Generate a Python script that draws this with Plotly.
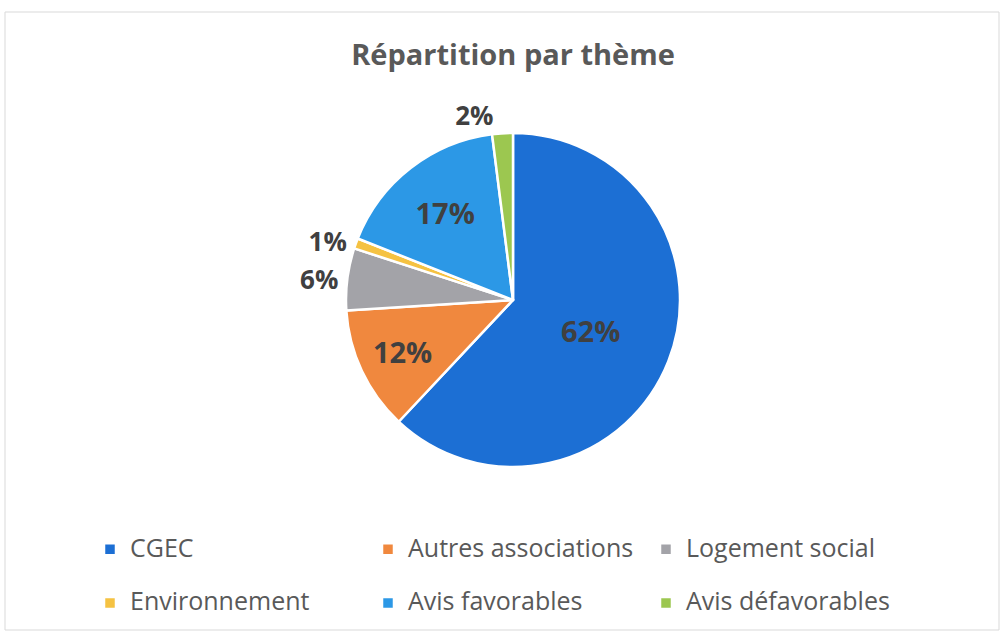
import plotly.graph_objects as go

# Répartition des dossiers par thème
categories = ["CGEC", "Autres associations", "Logement social",
              "Environnement", "Avis favorables", "Avis défavorables"]
shares = [62, 12, 6, 1, 17, 2]
slice_colors = ["#1c6fd4", "#f0883e", "#a3a3a8", "#f5c242", "#2c98e6", "#9cc750"]
label_positions = ["inside", "inside", "outside", "outside", "inside", "outside"]

W, H = 1004, 635
FONT = "Open Sans"

# Legend rows: the legend's base font sets the row pitch (two lines per
# entry), while the visible entry text is drawn larger through a span.
LEGEND_ROW_FONT = 19.5
LEGEND_TEXT_SIZE = 25
legend_names = [f'<span style="font-size:{LEGEND_TEXT_SIZE}px">{c}</span><br> '
                for c in categories]

fig = go.Figure(
    go.Pie(
        labels=legend_names,
        values=shares,
        text=[f"{v}%" for v in shares],
        textinfo="text",
        textposition=label_positions,
        insidetextorientation="horizontal",
        insidetextfont=dict(family=FONT, size=29, color="#404040", weight="bold"),
        outsidetextfont=dict(family=FONT, size=26, color="#404040", weight="bold"),
        marker=dict(colors=slice_colors, line=dict(color="white", width=2.5)),
        sort=False,
        direction="clockwise",
        rotation=0,
        hoverinfo="skip",
        domain=dict(x=[(513 - 250) / W, (513 + 250) / W],
                    y=[1 - 467 / H, 1 - 133 / H]),
    )
)

fig.update_layout(
    width=W,
    height=H,
    margin=dict(l=0, r=0, t=0, b=0, autoexpand=False),
    paper_bgcolor="white",
    font=dict(family=FONT, color="#595959"),
    title=dict(
        text="<b>Répartition par thème</b>",
        font=dict(family=FONT, size=29, color="#595959"),
        x=513 / W, xanchor="center",
        y=1 - 55 / H, yanchor="middle",
    ),
    showlegend=True,
    legend=dict(
        orientation="h",
        x=90 / W, xanchor="left",
        y=1 - 530 / H, yanchor="top",
        entrywidth=233,
        valign="top",
        font=dict(family=FONT, size=LEGEND_ROW_FONT, color="#595959"),
        bgcolor="rgba(0,0,0,0)",
    ),
    shapes=[
        dict(type="rect", xref="paper", yref="paper",
             x0=5 / W, x1=999 / W, y0=1 - 630 / H, y1=1 - 12 / H,
             line=dict(color="#d9d9d9", width=1)),
    ],
)

fig.write_html("out.html")
